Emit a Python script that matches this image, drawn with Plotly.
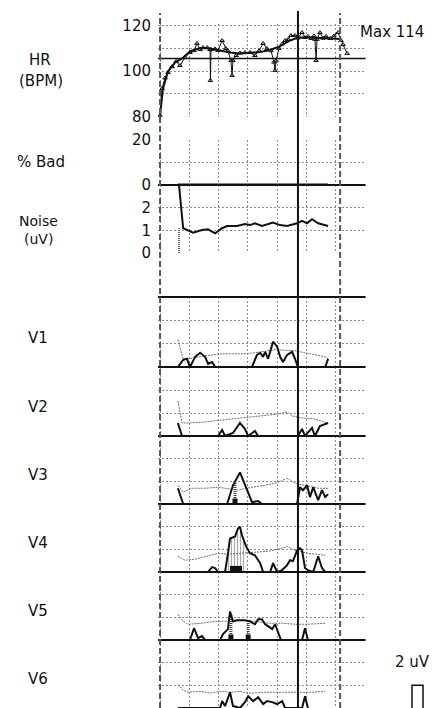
import numpy as np
import plotly.graph_objects as go

W, H = 432, 708

# ---------------- data (time in minutes, grid every minute) ----------------
hr_raw_t = [0.00, 0.07, 0.17, 0.27, 0.41, 0.55, 0.68, 0.85, 1.02, 1.16,
            1.26, 1.37, 1.47, 1.61, 1.71, 1.72, 1.74, 1.88, 1.98, 2.12,
            2.25, 2.32, 2.42, 2.46, 2.49, 2.60, 2.73, 2.90, 3.07, 3.24,
            3.38, 3.52, 3.65, 3.79, 3.89, 3.93, 3.96, 4.06, 4.17, 4.27,
            4.37, 4.47, 4.61, 4.71, 4.85, 4.95, 5.05, 5.16, 5.26, 5.29,
            5.33, 5.36, 5.46, 5.57, 5.67, 5.81, 5.94, 6.08, 6.18, 6.25,
            6.39]
hr_raw = [80.5, 92.4, 97.0, 99.4, 102.0, 104.3, 102.5, 106.0, 108.2, 109.0,
          112.2, 109.5, 110.4, 110.4, 109.5, 95.9, 109.5, 109.8, 109.1, 113.5,
          110.0, 109.0, 104.7, 98.1, 104.7, 106.9, 108.0, 108.2, 108.2, 106.9,
          109.0, 112.2, 110.0, 109.0, 104.0, 100.3, 104.5, 110.0, 112.0, 113.5,
          114.0, 115.7, 115.7, 114.6, 117.0, 114.8, 115.3, 114.4, 115.5, 114.0,
          104.7, 114.0, 117.0, 114.5, 115.3, 114.4, 115.5, 117.0, 113.5, 111.7,
          107.8]
hr_trend_t = [0.00, 0.10, 0.27, 0.51, 0.79, 1.02, 1.37, 1.71, 2.05, 2.39, 2.73,
              3.07, 3.42, 3.76, 4.10, 4.44, 4.71, 5.12, 5.46, 5.81, 6.15]
hr_trend = [80.5, 92.4, 99.9, 103.8, 106.0, 108.7, 110.2, 110.0, 109.1, 108.2, 107.8,
            108.0, 108.4, 109.3, 111.0, 113.5, 114.8, 114.8, 114.6, 114.4, 114.2]
hr_max = 114
hr_ref = 105.6
hr_ticks = [80, 90, 100, 110, 120]
hr_ticktext = ["80", "", "100", "", "120"]

bad_t = [0.61, 5.74]
bad_pct = [0, 0]
bad_ticks = [0, 10, 20]
bad_ticktext = ["0", "", "20"]

noise_t = [0.65, 0.79, 1.13, 1.43, 1.64, 1.88, 2.12, 2.29, 2.63, 2.90, 3.07,
           3.24, 3.48, 3.86, 4.10, 4.34, 4.68, 4.85, 5.02, 5.19, 5.40, 5.74]
noise_uv = [2.98, 1.10, 0.90, 1.02, 1.05, 0.87, 1.10, 1.20, 1.20, 1.29, 1.24,
            1.32, 1.20, 1.35, 1.24, 1.20, 1.32, 1.43, 1.32, 1.50, 1.32, 1.20]
noise_ticks = [0, 1, 2]

lead_names = ["V1", "V2", "V3", "V4", "V5", "V6"]

v1_thr_t = [0.61, 0.79, 0.96, 1.54, 2.12, 2.80, 3.24, 3.93, 4.61, 5.19, 5.64, 5.74]
v1_thr = [2.35, 0.70, 0.70, 0.96, 1.13, 1.13, 1.22, 1.48, 1.39, 1.13, 0.87, 0.70]
v1_alt_t = [0.61, 0.79, 0.92, 1.02, 1.20, 1.37, 1.54, 1.64, 1.78, 1.88, 3.14, 3.31, 3.42,
            3.52, 3.59, 3.69, 3.86, 4.00, 4.10, 4.20, 4.34, 4.51, 4.61, 4.71, 5.64, 5.74]
v1_alt = [0, 0.61, 0.70, 0, 0.87, 1.22, 0.87, 0.26, 0.43, 0, 0, 1.04, 1.22,
          0.87, 1.30, 0.70, 2.17, 1.74, 0.87, 0.43, 1.04, 1.30, 0.70, 0, 0, 0.70]

v2_thr_t = [0.61, 0.75, 0.96, 1.54, 2.12, 2.80, 3.48, 4.03, 4.34, 4.51, 4.85, 5.29, 5.70]
v2_thr = [3.04, 1.13, 1.13, 1.22, 1.39, 1.57, 1.74, 1.91, 2.09, 1.74, 1.57, 1.48, 1.13]
v2_alt_t = [0.61, 0.75, 1.98, 2.12, 2.22, 2.49, 2.73, 2.90, 3.01, 3.24, 3.35, 4.71, 4.85,
            4.95, 5.19, 5.29, 5.46, 5.64, 5.74]
v2_alt = [1.13, 0, 0, 0.52, 0, 0.26, 1.13, 0.61, 0, 0.43, 0, 0, 0.61,
          0, 0.70, 0, 0.87, 1.04, 1.13]

v3_thr_t = [0.61, 0.79, 1.09, 1.54, 1.98, 2.29, 2.66, 3.14, 3.59, 4.03, 4.34, 4.61, 4.95, 5.40, 5.74]
v3_thr = [1.65, 1.04, 1.39, 1.39, 1.48, 1.39, 1.22, 1.48, 1.65, 1.91, 2.26, 1.83, 1.65, 1.39, 1.39]
v3_alt_t = [0.61, 0.79, 2.29, 2.49, 2.73, 2.90, 3.14, 3.35, 3.48, 4.68, 4.78, 4.88, 5.02,
            5.12, 5.23, 5.40, 5.53, 5.64, 5.74]
v3_alt = [1.39, 0, 0, 1.65, 2.78, 1.65, 0.17, 0.26, 0, 0, 1.48, 1.22, 1.65,
          0.61, 1.48, 0.35, 1.22, 0.61, 0.87]

v4_thr_t = [0.61, 0.85, 1.20, 1.64, 1.98, 2.32, 2.80, 3.24, 3.69, 4.17, 4.34, 4.61, 5.05, 5.64]
v4_thr = [1.39, 1.04, 1.13, 1.39, 1.65, 1.57, 1.65, 1.74, 1.83, 2.09, 2.26, 1.91, 1.65, 1.48]
v4_alt_t = [0.61, 1.64, 1.78, 1.88, 1.98, 2.22, 2.32, 2.39, 2.56, 2.66, 2.73, 2.80, 2.94,
            3.07, 3.24, 3.42, 3.52, 3.76, 3.86, 4.00, 4.17, 4.34, 4.44, 4.54, 4.68, 4.78,
            4.85, 4.95, 5.05, 5.23, 5.40, 5.53, 5.64]
v4_alt = [0, 0, 0.43, 0.35, 0, 0, 1.65, 2.96, 3.13, 3.83, 4.00, 3.22, 2.26,
          1.65, 1.48, 0.78, 0, 0, 0.78, 0, 0.17, 0.61, 1.04, 0.96, 1.91, 2.09,
          1.91, 0.35, 0.17, 0, 1.39, 0.35, 0]

v5_thr_t = [0.61, 0.79, 0.96, 1.43, 1.88, 2.32, 2.80, 3.24, 3.69, 4.17, 4.61, 5.05, 5.64]
v5_thr = [2.26, 1.65, 1.39, 1.48, 1.65, 1.65, 1.74, 1.65, 1.48, 1.48, 1.39, 1.39, 1.48]
v5_alt_t = [0.61, 1.02, 1.16, 1.30, 1.43, 1.54, 2.05, 2.15, 2.32, 2.39, 2.49, 2.63, 2.90,
            3.07, 3.24, 3.35, 3.48, 3.59, 3.69, 3.83, 3.93, 4.03, 4.13, 4.85, 4.95, 5.05, 5.74]
v5_alt = [0, 0, 1.04, 0.17, 0.35, 0, 0, 0.52, 0.96, 2.52, 1.65, 1.74, 1.74,
          1.65, 1.39, 1.83, 1.83, 1.39, 1.22, 0.96, 1.39, 0.61, 0, 0, 1.04, 0, 0]

v6_thr_t = [0.61, 0.79, 0.96, 1.43, 1.71, 2.05, 2.46, 2.73, 3.01, 3.59, 4.17, 4.71, 5.19, 5.64]
v6_thr = [2.09, 1.57, 1.39, 1.48, 1.30, 1.48, 1.39, 1.48, 1.30, 1.39, 1.39, 1.39, 1.39, 1.48]
v6_alt_t = [0.61, 2.05, 2.12, 2.22, 2.39, 2.49, 2.73, 2.90, 3.01, 3.18, 3.35, 3.52, 3.65,
            3.83, 4.00, 4.17, 4.27, 4.85, 4.95, 5.05]
v6_alt = [0, 0, 0.61, 0.17, 1.39, 0.17, 0, 0.52, 1.04, 0.61, 0.96, 0.35, 0.61,
          0.52, 0.35, 0.61, 0, 0, 1.04, 0]

# significant-alternans markers
v3_sig_t = [2.56]
v4_sig_span = [2.39, 2.80]
v4_hatch_span = [2.32, 2.94]
v5_sig_t = [2.42, 3.01]

event_t = [0.0, 6.15]   # dashed markers
cursor_t = 4.71         # solid cursor
calib_uv = 2

# ---------------- styling ----------------
BLACK = "#111111"
GRID = "#8c8c8c"
GDASH = "2px,2px"
FONT = "DejaVu Sans"
FS = 15


def dom(top_px, bottom_px):
    return [max(0.0, 1 - bottom_px / H), min(1.0, 1 - top_px / H)]


leads = [
    (v1_thr_t, v1_thr, v1_alt_t, v1_alt),
    (v2_thr_t, v2_thr, v2_alt_t, v2_alt),
    (v3_thr_t, v3_thr, v3_alt_t, v3_alt),
    (v4_thr_t, v4_thr, v4_alt_t, v4_alt),
    (v5_thr_t, v5_thr, v5_alt_t, v5_alt),
    (v6_thr_t, v6_thr, v6_alt_t, v6_alt),
]
lead_bounds = [(297, 367), (367, 436), (436, 504), (504, 572), (572, 640), (640, 708)]
lead_label_y = [338, 407, 475, 543, 611, 679]

fig = go.Figure()

# HR
fig.add_trace(go.Scatter(x=hr_raw_t, y=hr_raw, mode="lines+markers", yaxis="y",
                         line=dict(color=BLACK, width=1),
                         marker=dict(symbol="triangle-up-open", size=4, color=BLACK,
                                     line=dict(width=1, color=BLACK))))
fig.add_trace(go.Scatter(x=hr_trend_t, y=hr_trend, mode="lines", yaxis="y",
                         line=dict(color=BLACK, width=2)))
# % bad
fig.add_trace(go.Scatter(x=bad_t, y=bad_pct, mode="lines", yaxis="y2",
                         line=dict(color=BLACK, width=3)))
# noise
fig.add_trace(go.Scatter(x=[noise_t[0], noise_t[0]], y=[0, noise_uv[1]], mode="lines",
                         yaxis="y3", line=dict(color="#555", width=2, dash="1px,1px")))
fig.add_trace(go.Scatter(x=noise_t, y=noise_uv, mode="lines", yaxis="y3",
                         line=dict(color=BLACK, width=2)))

# leads
for i, (tt, tv, at, av) in enumerate(leads):
    ya = "y%d" % (i + 4)
    if i == 3:
        m = [(t >= v4_hatch_span[0]) and (t <= v4_hatch_span[1]) for t in at]
        hx = [t for t, k in zip(at, m) if k]
        hy = [v for v, k in zip(av, m) if k]
        fig.add_trace(go.Scatter(x=hx, y=hy, mode="lines", yaxis=ya, fill="tozeroy",
                                 line=dict(width=0, color="rgba(0,0,0,0)"),
                                 fillcolor="rgba(0,0,0,0)",
                                 fillpattern=dict(shape="|", fgcolor="#555", bgcolor="white",
                                                  size=3, solidity=0.4)))
        fig.add_trace(go.Scatter(x=v4_sig_span, y=[0.27, 0.27], mode="lines", yaxis=ya,
                                 line=dict(color=BLACK, width=6)))
    sig = {2: v3_sig_t, 4: v5_sig_t}.get(i)
    if sig:
        for s in sig:
            top = float(np.interp(s, at, av))
            fig.add_trace(go.Scatter(x=[s, s], y=[0, top], mode="lines", yaxis=ya,
                                     line=dict(color="#444", width=3, dash="1px,1px")))
        fig.add_trace(go.Scatter(x=sig, y=[0.27] * len(sig), mode="markers", yaxis=ya,
                                 marker=dict(symbol="square", size=5, color=BLACK)))
    fig.add_trace(go.Scatter(x=tt, y=tv, mode="lines", yaxis=ya,
                             line=dict(color="#6e6e6e", width=1, dash="2px,1px")))
    fig.add_trace(go.Scatter(x=at, y=av, mode="lines", yaxis=ya,
                             line=dict(color=BLACK, width=2)))

tickfont = dict(family=FONT, size=FS, color=BLACK)
common_y = dict(anchor="x", zeroline=False, showline=False, ticks="",
                showgrid=True, gridcolor=GRID, griddash=GDASH, gridwidth=1,
                tickfont=tickfont, ticklabelstandoff=6, fixedrange=True, automargin=False)

layout = dict(
    width=W, height=H, autosize=False,
    margin=dict(l=0, r=0, t=0, b=0, pad=0, autoexpand=False),
    paper_bgcolor="white", plot_bgcolor="white", showlegend=False,
    hovermode=False,
    xaxis=dict(domain=[158 / W, 365.6 / W], range=[-0.07, 7.02], tick0=0, dtick=1,
               showgrid=True, gridcolor=GRID, griddash=GDASH, gridwidth=1,
               showticklabels=False, ticks="", zeroline=False, showline=False,
               anchor="y9", fixedrange=True, automargin=False),
    yaxis=dict(common_y, domain=dom(24, 116.7), range=[80, 120.75],
               tickvals=hr_ticks, ticktext=hr_ticktext),
    yaxis2=dict(common_y, domain=dom(140, 185), range=[0, 20],
                tickvals=bad_ticks, ticktext=bad_ticktext),
    yaxis3=dict(common_y, domain=dom(185, 253), range=[0, 3.02],
                tickvals=noise_ticks),
)
for i, (top, bot) in enumerate(lead_bounds):
    layout["yaxis%d" % (i + 4)] = dict(common_y, domain=dom(top, bot), range=[0, 6],
                                       tickvals=[2, 4], showticklabels=False)

shapes = []
# panel boundary lines
shapes.append(dict(type="line", xref="x domain", x0=0, x1=1, yref="y2 domain", y0=0, y1=0,
                   line=dict(color=BLACK, width=2)))
shapes.append(dict(type="line", xref="x domain", x0=0, x1=1, yref="y4 domain", y0=1, y1=1,
                   line=dict(color=BLACK, width=2)))
for i in range(5):
    shapes.append(dict(type="line", xref="x domain", x0=0, x1=1,
                       yref="y%d domain" % (i + 4), y0=0, y1=0,
                       line=dict(color=BLACK, width=2)))
# HR reference line
shapes.append(dict(type="line", xref="x domain", x0=0, x1=1, yref="y", y0=hr_ref, y1=hr_ref,
                   line=dict(color=BLACK, width=1.5)))
# event markers
for t in event_t:
    shapes.append(dict(type="line", xref="x", x0=t, x1=t, yref="paper", y0=0, y1=1 - 13 / H,
                       line=dict(color="#555", width=2, dash="6px,3px")))
shapes.append(dict(type="line", xref="x", x0=cursor_t, x1=cursor_t, yref="paper", y0=0,
                   y1=1 - 11 / H, line=dict(color=BLACK, width=2)))
# calibration pulse (2 uV on V6 scale)
x_a, x_b = 412 / W, 423 / W
shapes.append(dict(type="path", xref="paper", yref="y9",
                   path="M %.4f,0 L %.4f,%g L %.4f,%g L %.4f,0" % (x_a, x_a, calib_uv, x_b, calib_uv, x_b),
                   line=dict(color=BLACK, width=1.5)))
layout["shapes"] = shapes

ann = []
def label(text, xpx, ypx, anchor="center", size=FS):
    ann.append(dict(text=text, xref="paper", yref="paper", x=xpx / W, y=1 - ypx / H,
                    xanchor=anchor, yanchor="middle", showarrow=False,
                    font=dict(family=FONT, size=size, color=BLACK)))

label("HR", 40, 60)
label("(BPM)", 41, 81)
label("% Bad", 41, 162)
label("Noise", 38, 221, size=14)
label("(uV)", 38, 239, size=14)
for name, yp in zip(lead_names, lead_label_y):
    label(name, 38, yp)
label("Max %d" % hr_max, 358, 32, "left")
label("%d uV" % calib_uv, 393, 662, "left")
layout["annotations"] = ann

fig.update_layout(layout)
fig.write_html("out.html", config={"displayModeBar": False, "staticPlot": True},
               post_script="document.body.style.margin='0';document.body.style.overflow='hidden';")
